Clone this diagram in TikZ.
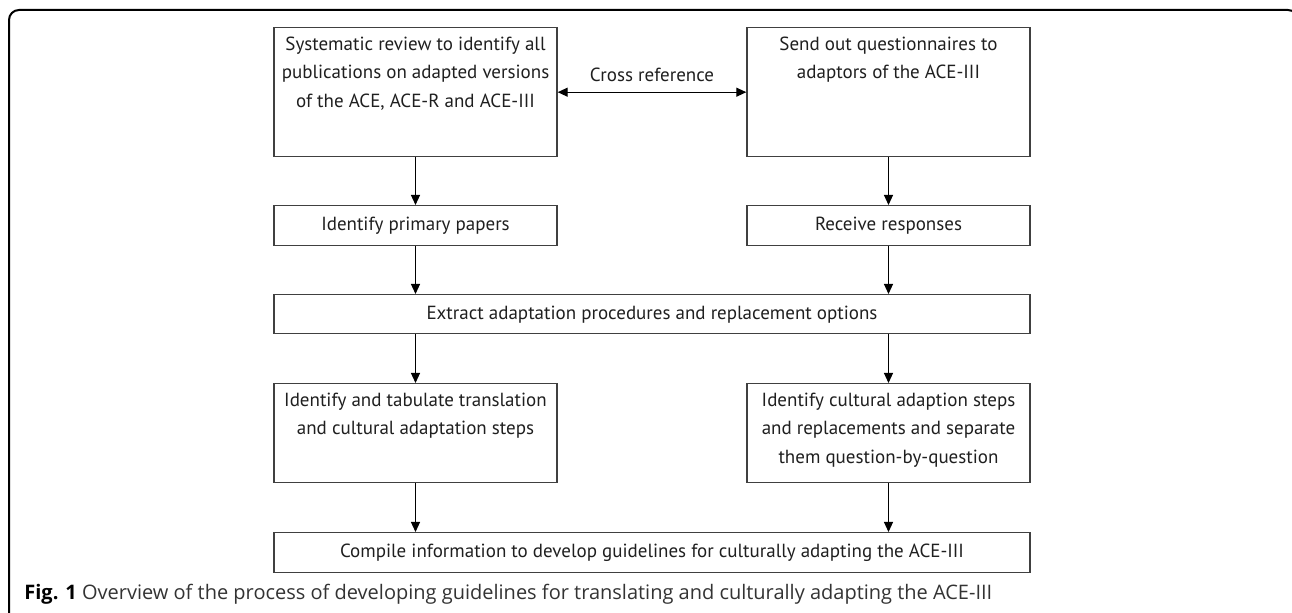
\documentclass[tikz,border=0pt]{standalone}
\usepackage{fontspec}
\setmainfont{PT Sans}
\newfontfamily\capfont{Open Sans}
\usetikzlibrary{arrows.meta}

\begin{document}
\begin{tikzpicture}[x=0.5pt,y=-0.5pt,
  font=\fontsize{9.5}{14.3}\selectfont,text=black!88,
  box/.style={draw=black!75,line width=0.7pt,inner sep=0pt,anchor=north},
  tall/.style={box,execute at begin node={\begin{minipage}[t][#1][t]{141.5pt}\centering\vspace{4.5pt}},
    execute at end node={\end{minipage}}},
  short/.style={box,minimum width=#1,minimum height=20pt},
  link/.style={-{Triangle[length=5pt,width=4.5pt]},line width=0.6pt}]
\useasboundingbox (0,0) rectangle (1292,613);
% frame
\draw[line width=1pt,rounded corners=5pt] (9,613) |- (1298,10) -- (1298,613);
% top row
\node[tall=64.5pt] (sys) at (415.5,27) {Systematic review to identify all\\
  publications on adapted versions\\ of the ACE, ACE-R and ACE-III};
\node[tall=64.5pt] (send) at (888.5,27) {Send out questionnaires to\\ adaptors of the ACE-III};
\draw[{Triangle[length=5pt,width=4.5pt]}-{Triangle[length=5pt,width=4.5pt]},line width=0.6pt]
  (sys.east) -- node[above=1.5pt] {Cross reference} (send.west);
% second row
\node[short=141.5pt] (prim) at (415.5,205) {Identify primary papers};
\node[short=141.5pt] (recv) at (888.5,205) {Receive responses};
\node[short=378pt,minimum height=19.5pt] (extr) at (652,294) {Extract adaptation procedures and replacement options};
% third row
\node[tall=49.5pt] (tab) at (415.5,383) {Identify and tabulate translation\\ and cultural adaptation steps};
\node[tall=49.5pt] (cult) at (888.5,383) {Identify cultural adaption steps\\
  and replacements and separate\\ them question-by-question};
\node[short=378pt] (comp) at (652,532) {Compile information to develop guidelines for culturally adapting the ACE-III};
% arrows
\draw[link] (sys) -- (prim);
\draw[link] (send) -- (recv);
\draw[link] (prim) -- (prim |- extr.north);
\draw[link] (recv) -- (recv |- extr.north);
\draw[link] (extr.south -| tab) -- (tab);
\draw[link] (extr.south -| cult) -- (cult);
\draw[link] (tab) -- (tab |- comp.north);
\draw[link] (cult) -- (cult |- comp.north);
% caption
\node[anchor=west,inner sep=0pt,text=black!80] (cap) at (24,594)
  {\capfont\fontsize{10}{12}\selectfont\textbf{\color{black}Fig. 1} Overview of the process of developing guidelines for translating and culturally adapting the ACE-III};
\end{tikzpicture}
\end{document}
